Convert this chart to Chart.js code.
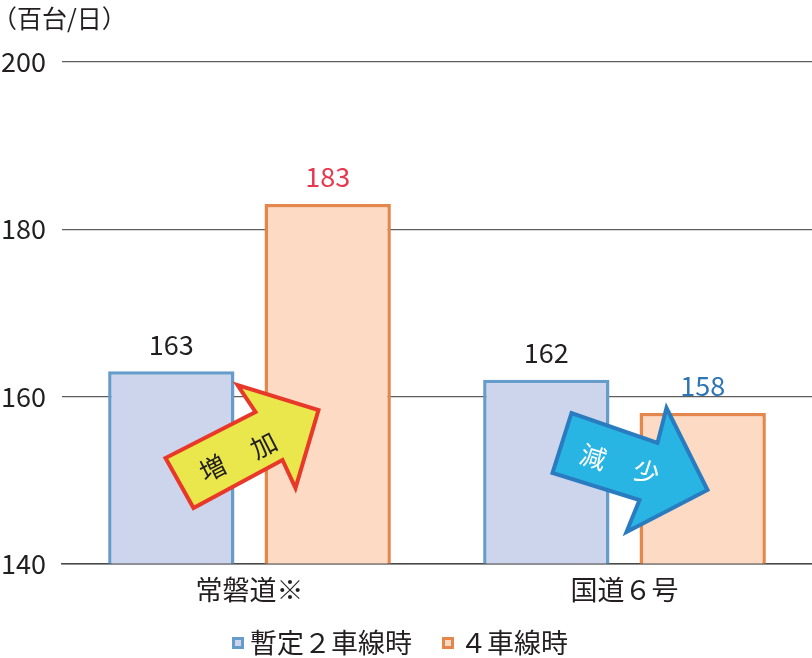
<!DOCTYPE html>
<html><head><meta charset="utf-8">
<script src="https://cdn.jsdelivr.net/npm/chart.js@4/dist/chart.umd.min.js"></script>
<style>html,body{margin:0;padding:0;background:#fff}#w{width:812px;height:658px;position:relative}</style>
</head><body><div id="w"><canvas id="c"></canvas></div>
<script>
const categories = ['常磐道※', '国道６号'];
const seriesNames = ['暫定２車線時', '４車線時'];
const provisional = [163, 162];
const fourLane = [183, 158];
const yTicks = [140, 160, 180, 200];
const unitLabel = '（百台/日）';
const arrowTexts = [['増', '加'], ['減', '少']];

const FONT = '"Noto Sans CJK JP", "Noto Sans", sans-serif';
const labelColors = [['#231f20', '#231f20'], ['#e8384f', '#2e75b6']];

const valueLabels = {
  id: 'valueLabels',
  afterDatasetsDraw(chart) {
    const ctx = chart.ctx;
    ctx.save();
    ctx.font = '27px ' + FONT;
    ctx.textAlign = 'center';
    ctx.textBaseline = 'middle';
    chart.data.datasets.forEach((ds, di) => {
      const meta = chart.getDatasetMeta(di);
      meta.data.forEach((bar, i) => {
        ctx.fillStyle = labelColors[di][i];
        ctx.fillText(String(ds.data[i]), bar.x, bar.y - 27);
      });
    });
    ctx.restore();
  }
};

const arrows = {
  id: 'arrows',
  afterDatasetsDraw(chart) {
    const ctx = chart.ctx;
    const xs = chart.scales.x, ys = chart.scales.y;
    const defs = [
      { cat: 0, val: 150, fill: '#e9e74b', stroke: '#e8382a', textColor: '#231f20',
        pts: [[-84,-22],[-56,28],[33,-20],[46,8],[69,-70],[-12,-95],[6,-68]],
        txt: [[-37,-12],[14,-35]], rot: -27 },
      { cat: 1, val: 150, fill: '#29b5e3', stroke: '#2a7cc0', textColor: '#ffffff',
        pts: [[-53,-67],[-72,-7],[15,20],[2,52],[83,10],[42,-72],[33,-37]],
        txt: [[-31,-23],[22,-8]], rot: 18 }
    ];
    ctx.save();
    defs.forEach((d, k) => {
      const ax = xs.getPixelForValue(d.cat), ay = ys.getPixelForValue(d.val);
      ctx.beginPath();
      d.pts.forEach((p, i) => { if (i === 0) ctx.moveTo(ax + p[0], ay + p[1]); else ctx.lineTo(ax + p[0], ay + p[1]); });
      ctx.closePath();
      ctx.fillStyle = d.fill;
      ctx.fill();
      ctx.lineWidth = 4;
      ctx.lineJoin = 'miter';
      ctx.strokeStyle = d.stroke;
      ctx.stroke();
      ctx.fillStyle = d.textColor;
      ctx.font = '26px ' + FONT;
      ctx.textAlign = 'center';
      ctx.textBaseline = 'middle';
      d.txt.forEach((t, j) => {
        ctx.save();
        ctx.translate(ax + t[0], ay + t[1]);
        ctx.rotate(d.rot * Math.PI / 180);
        ctx.fillText(arrowTexts[k][j], 0, 0);
        ctx.restore();
      });
    });
    ctx.restore();
  }
};

const unitTitle = {
  id: 'unitTitle',
  afterDraw(chart) {
    const ctx = chart.ctx;
    ctx.save();
    ctx.font = '25px ' + FONT;
    ctx.fillStyle = '#231f20';
    ctx.textAlign = 'left';
    ctx.textBaseline = 'middle';
    ctx.fillText(unitLabel, -8, 18);
    ctx.restore();
  }
};

const customLegend = {
  id: 'customLegend',
  afterDraw(chart) {
    const ctx = chart.ctx;
    ctx.save();
    ctx.font = '27px ' + FONT;
    ctx.textBaseline = 'middle';
    ctx.textAlign = 'left';
    const y = 643, box = 9, gap = 6, itemGap = 30;
    const widths = chart.data.datasets.map(ds => box + 3 + gap + ctx.measureText(ds.label).width);
    const total = widths.reduce((a, b) => a + b, 0) + itemGap * (widths.length - 1);
    let x = (chart.width - total) / 2 - 6;
    chart.data.datasets.forEach((ds, i) => {
      ctx.fillStyle = ds.backgroundColor;
      ctx.strokeStyle = ds.borderColor;
      ctx.lineWidth = 3;
      ctx.fillRect(x + 1.5, y - box / 2, box, box);
      ctx.strokeRect(x + 1.5, y - box / 2, box, box);
      ctx.fillStyle = '#231f20';
      ctx.fillText(ds.label, x + box + 3 + gap, y);
      x += widths[i] + itemGap;
    });
    ctx.restore();
  }
};

new Chart(document.getElementById('c'), {
  type: 'bar',
  data: {
    labels: categories,
    datasets: [
      { label: seriesNames[0], data: provisional, backgroundColor: '#cdd5ec', borderColor: '#659cca', borderWidth: 3.5, borderSkipped: 'bottom',
        categoryPercentage: 0.834, barPercentage: 0.808 },
      { label: seriesNames[1], data: fourLane, backgroundColor: '#fcdac4', borderColor: '#e5874c', borderWidth: 3.5, borderSkipped: 'bottom',
        categoryPercentage: 0.834, barPercentage: 0.808 }
    ]
  },
  options: {
    responsive: true,
    maintainAspectRatio: false,
    animation: false,
    devicePixelRatio: 1,
    layout: { padding: { top: 62, right: 0, left: 0, bottom: 42 } },
    plugins: {
      tooltip: { enabled: false },
      legend: { display: false }
    },
    scales: {
      x: {
        grid: { display: false, drawTicks: false },
        border: { display: true, color: '#4a4a4a', width: 1.5 },
        ticks: { font: { family: FONT, size: 27 }, color: '#231f20', padding: 10 }
      },
      y: {
        min: 140, max: 200,
        afterBuildTicks(scale) { scale.ticks = yTicks.map(v => ({ value: v })); },
        afterFit(scale) { scale.width = 62; },
        grid: { color: '#5e5e5e', lineWidth: 1.2, drawTicks: false },
        border: { display: false },
        ticks: { font: { family: FONT, size: 27 }, color: '#231f20', padding: 16 }
      }
    }
  },
  plugins: [valueLabels, arrows, unitTitle, customLegend]
});
</script></body></html>
